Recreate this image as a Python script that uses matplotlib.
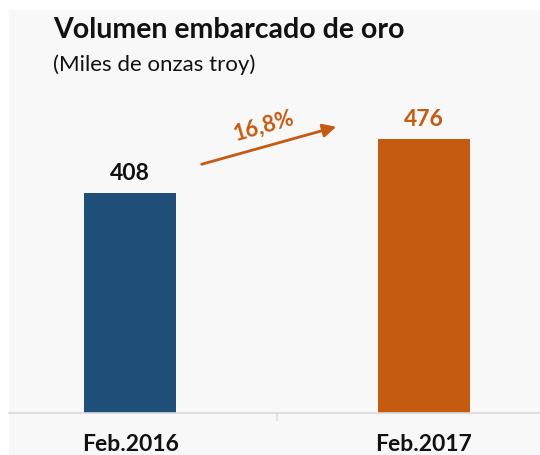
# Volumen embarcado de oro - barras Feb.2016 vs Feb.2017
import matplotlib.pyplot as plt
from matplotlib.patches import Rectangle, FancyArrowPatch

# datos
periodos = ['Feb.2016', 'Feb.2017']
volumen = [408, 476]  # miles de onzas troy
variacion = '16,8%'
colores = ['#1f4e79', '#c55a11']

W, H = 540, 455
plt.rcParams['font.family'] = ['Lato', 'DejaVu Sans']

fig = plt.figure(figsize=(W / 100, H / 100), dpi=100)
fig.patch.set_facecolor('white')

# fondo gris claro (recorte de la diapositiva)
fig.patches.append(Rectangle((9 / W, 0), 1, 1 - 10 / H, transform=fig.transFigure,
                             facecolor='#f8f8f8', edgecolor='none', zorder=-5))

def px(x, y):
    # pixel -> fraccion de figura
    return x / W, 1 - y / H

# ejes: linea base en y=413 px
ax = fig.add_axes([9 / W, 42 / H, 531 / W, 313 / H], zorder=2)
ax.set_facecolor('none')
x = list(range(len(periodos)))
ax.bar(x, volumen, width=0.313, color=colores, zorder=2)
ax.set_xlim(-0.412, 1.395)
ax.set_ylim(131, 525)

for s in ['top', 'right', 'left']:
    ax.spines[s].set_visible(False)
ax.spines['bottom'].set_color('#d9d9d9')
ax.spines['bottom'].set_linewidth(1.2)
ax.set_yticks([])
ax.set_xticks(x)
ax.set_xticklabels([])
ax.tick_params(axis='x', which='major', length=0)
ax.set_xticks([0.5], minor=True)
ax.tick_params(axis='x', which='minor', length=6, color='#e0e0e0', width=1.2)

# etiquetas de categoria
for i, p in enumerate(periodos):
    ax.annotate(p, (i, 0), xycoords=('data', 'axes fraction'), xytext=(0, -27.5),
                textcoords='offset points', ha='center', va='baseline',
                fontsize=16.5, fontweight='bold', color='#111111',
                annotation_clip=False)

# etiquetas de valor
lab_col = ['#111111', colores[1]]
for i, v in enumerate(volumen):
    ax.annotate(str(v), (i, v), xytext=(0, 9.5), textcoords='offset points',
                ha='center', va='baseline', fontsize=16.5, fontweight='bold',
                color=lab_col[i])

# flecha de variacion
fig.add_artist(FancyArrowPatch(
    px(199, 165), px(339, 126), transform=fig.transFigure,
    arrowstyle='-|>,head_length=8,head_width=4', color=colores[1],
    lw=2.0, mutation_scale=1))
fig.text(*px(264, 126), variacion, rotation=16, ha='center', va='center',
         fontsize=16, fontweight='bold', color=colores[1])

# titulos
fig.text(*px(53, 38), 'Volumen embarcado de oro', ha='left', va='baseline',
         fontsize=20.5, fontweight='bold', color='#111111')
fig.text(*px(53, 71), '(Miles de onzas troy)', ha='left', va='baseline',
         fontsize=16, color='#111111')

fig.savefig('out.png', dpi=100, facecolor=fig.get_facecolor())
